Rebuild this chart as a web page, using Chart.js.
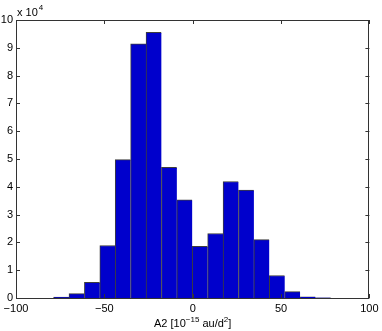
<!DOCTYPE html>
<html>
<head>
<meta charset="utf-8">
<script src="https://cdn.jsdelivr.net/npm/chart.js@4/dist/chart.umd.min.js"></script>
<style>
html,body{margin:0;padding:0;background:#fff;}
#wrap{width:382px;height:331px;position:relative;}
</style>
</head>
<body>
<div id="wrap"><canvas id="c" width="382" height="331"></canvas></div>
<script>
// Bin centres of the histogram (A2 in 10^-15 au/d^2)
const binCenters = [-74.37, -65.65, -56.93, -48.21, -39.49, -30.77, -22.05, -13.33, -4.61,
                    4.11, 12.83, 21.55, 30.27, 38.99, 47.71, 56.43, 65.15, 73.87];
// Counts per bin
const counts = [300, 1600, 5600, 18900, 49800, 91400, 95600, 47000, 35300,
                18600, 23200, 41900, 38800, 21000, 8100, 2300, 400, 100];
const xTicks = [-100, -50, 0, 50, 100];
const yTicks = [0, 1, 2, 3, 4, 5, 6, 7, 8, 9, 10]; // in units of 10^4
const yExponent = 4;
const xTitleParts = [["A2 [10", 0], ["\u221215", 1], [" au/d", 0], ["2", 1], ["]", 0]];

const FONT = "'Liberation Sans', Arial, Helvetica, sans-serif";
const AX = '#333333';

const frame = {
  id: 'frame',
  afterDraw(chart) {
    const ctx = chart.ctx, a = chart.chartArea;
    const xs = chart.scales.x, ys = chart.scales.y;
    ctx.save();
    ctx.strokeStyle = AX;
    ctx.lineWidth = 1;
    ctx.strokeRect(Math.round(a.left) + 0.5, Math.round(a.top) + 0.5,
                   Math.round(a.right - a.left) - 1, Math.round(a.bottom - a.top));
    const tl = 4;
    ctx.beginPath();
    xTicks.forEach(v => {
      const p = Math.round(xs.getPixelForValue(v)) + 0.5;
      ctx.moveTo(p, a.bottom); ctx.lineTo(p, a.bottom - tl);
      ctx.moveTo(p, a.top); ctx.lineTo(p, a.top + tl);
    });
    yTicks.forEach(v => {
      const p = Math.round(ys.getPixelForValue(v * Math.pow(10, yExponent))) + 0.5;
      ctx.moveTo(a.left, p); ctx.lineTo(a.left + tl, p);
      ctx.moveTo(a.right, p); ctx.lineTo(a.right - tl, p);
    });
    ctx.stroke();

    // exponent label
    ctx.fillStyle = '#000';
    ctx.textBaseline = 'alphabetic';
    ctx.textAlign = 'left';
    ctx.font = '11px ' + FONT;
    const base = 'x 10';
    ctx.fillText(base, a.left + 1, a.top - 4);
    const w = ctx.measureText(base).width;
    ctx.font = '8px ' + FONT;
    ctx.fillText(String(yExponent), a.left + 1 + w + 1, a.top - 10);

    // x title with superscripts
    let total = 0;
    const widths = xTitleParts.map(([t, sup]) => {
      ctx.font = (sup ? '8px ' : '11px ') + FONT;
      const ww = ctx.measureText(t).width;
      total += ww;
      return ww;
    });
    let x = (a.left + a.right) / 2 - total / 2;
    const yb = 327;
    xTitleParts.forEach(([t, sup], i) => {
      ctx.font = (sup ? '8px ' : '11px ') + FONT;
      ctx.fillText(t, x, sup ? yb - 5 : yb);
      x += widths[i];
    });
    ctx.restore();
  }
};

const lastIdx = counts.length - 1;
new Chart(document.getElementById('c'), {
  type: 'bar',
  data: {
    datasets: [{
      data: binCenters.map((c, i) => ({x: c, y: counts[i]})),
      backgroundColor: '#0000CC',
      borderColor: '#3c3c3c',
      borderWidth: ctx => ({top: 1, left: 1, bottom: 0, right: ctx.dataIndex === lastIdx ? 1 : 0}),
      borderSkipped: false,
      barPercentage: 1,
      categoryPercentage: 1
    }]
  },
  options: {
    responsive: false,
    animation: false,
    devicePixelRatio: 1,
    layout: {padding: {top: 20, right: 12.6, left: 0, bottom: 0}},
    plugins: {legend: {display: false}, tooltip: {enabled: false}},
    scales: {
      x: {
        type: 'linear', min: -100, max: 100, offset: false,
        afterBuildTicks: s => { s.ticks = xTicks.map(v => ({value: v})); },
        afterFit: s => { s.height = 33; s.paddingLeft = 0; s.paddingRight = 0; },
        grid: {display: false, drawTicks: false, offset: false},
        border: {display: false},
        ticks: {
          color: '#000', padding: 4, maxRotation: 0,
          font: {size: 11, family: FONT},
          callback: v => (v < 0 ? '\u2212' + Math.abs(v) : String(v))
        }
      },
      y: {
        min: 0, max: 100000,
        afterBuildTicks: s => { s.ticks = yTicks.map(v => ({value: v * Math.pow(10, yExponent)})); },
        afterFit: s => { s.width = 16; },
        grid: {display: false, drawTicks: false},
        border: {display: false},
        ticks: {
          color: '#000', padding: 3,
          font: {size: 11, family: FONT},
          callback: v => String(Math.round(v / Math.pow(10, yExponent)))
        }
      }
    }
  },
  plugins: [frame]
});
</script>
</body>
</html>
